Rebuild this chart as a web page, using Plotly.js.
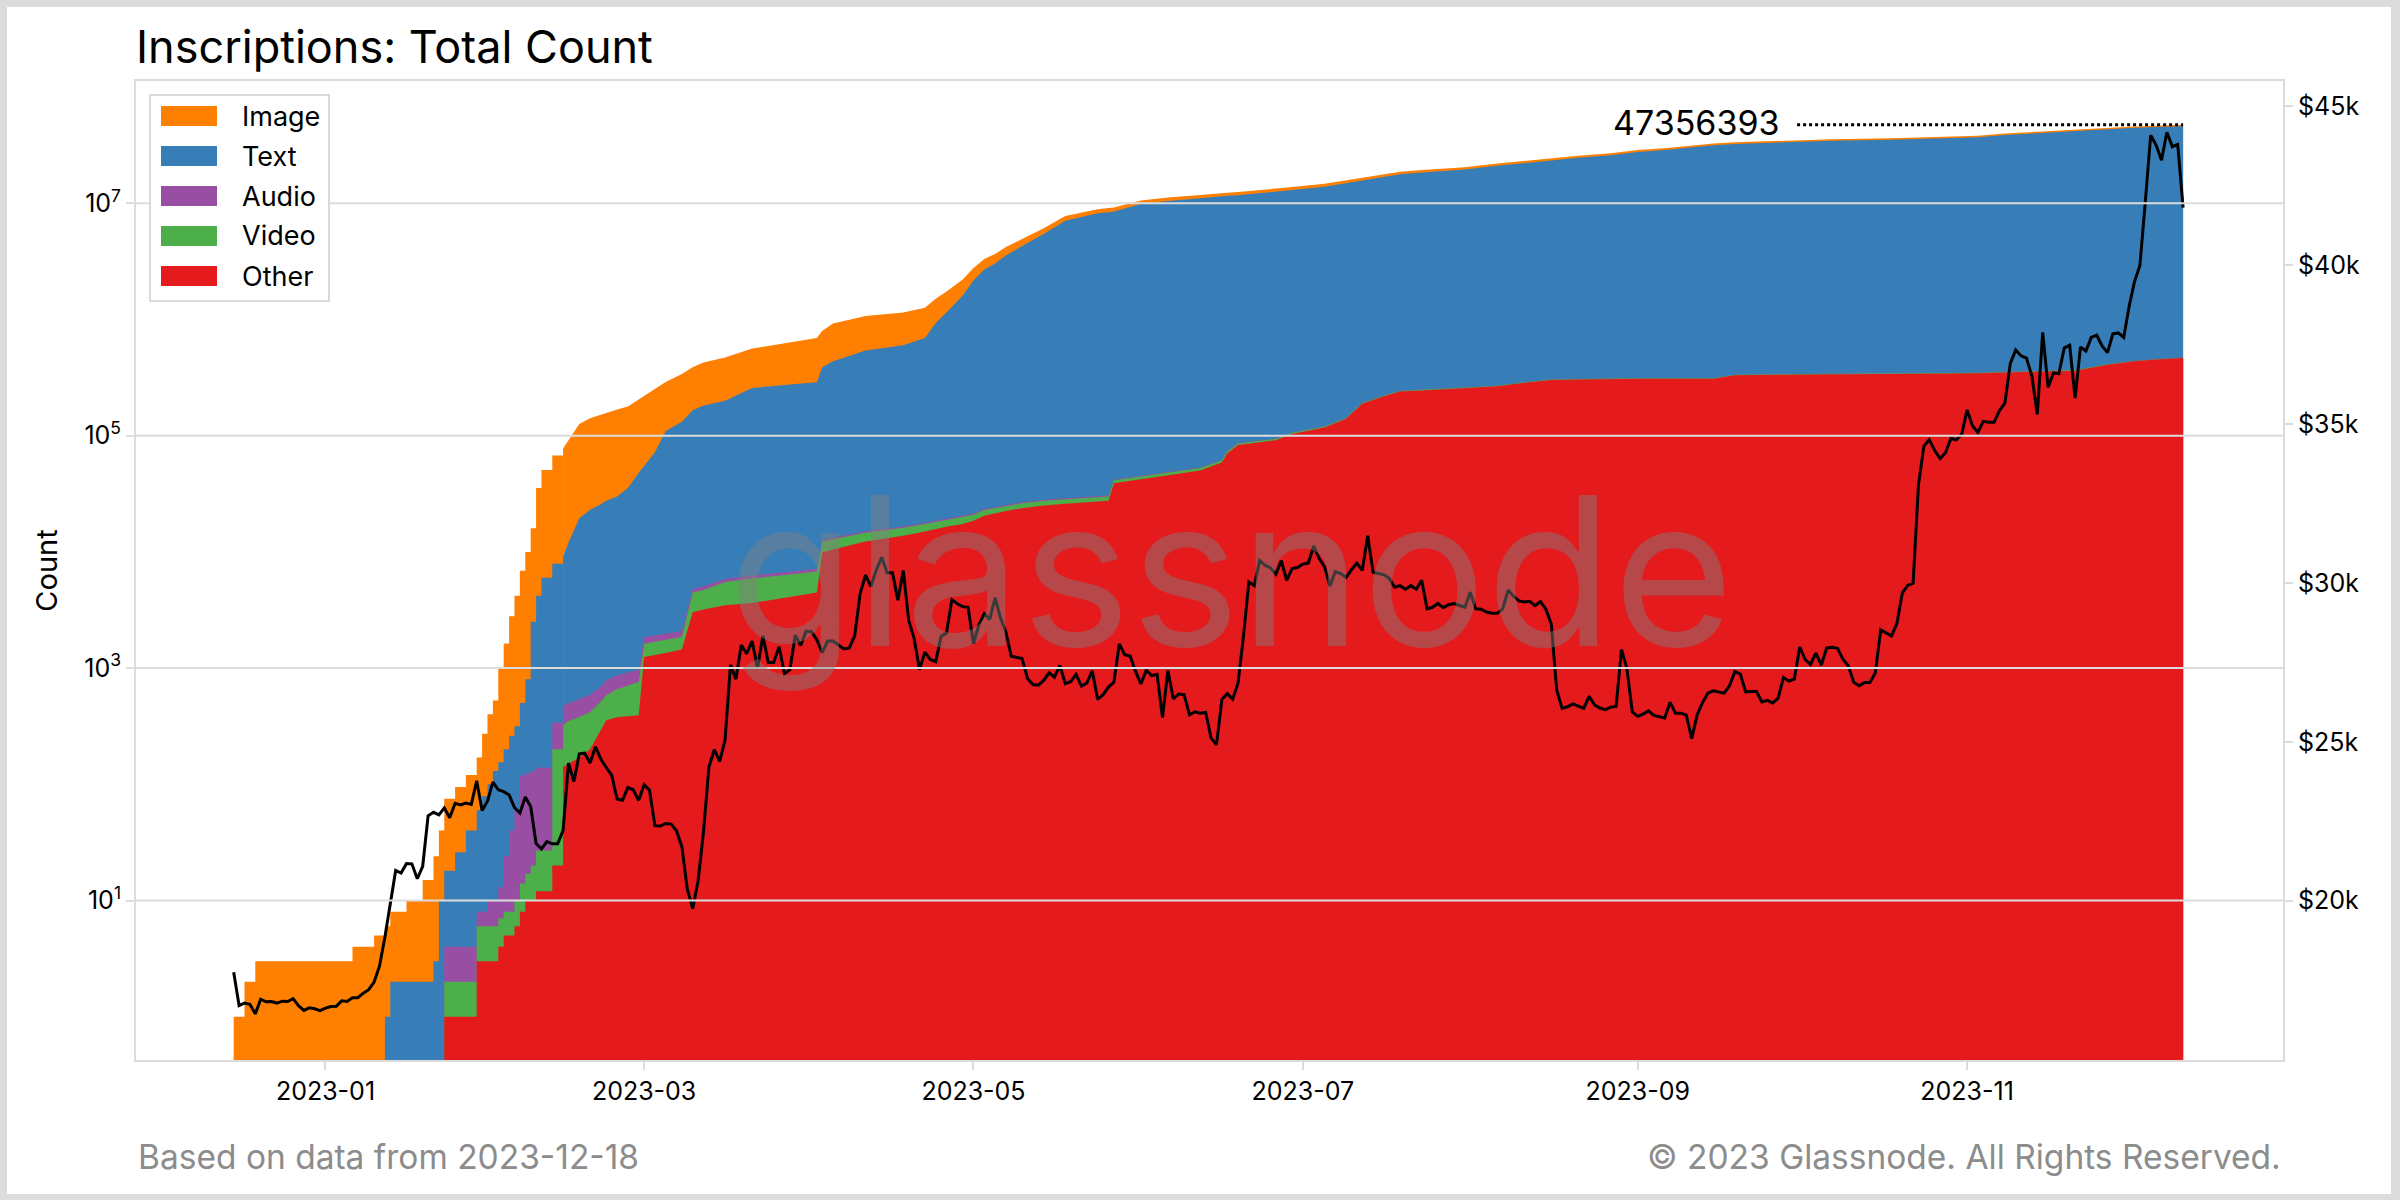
<!DOCTYPE html>
<html>
<head>
<meta charset="utf-8">
<script src="https://cdn.plot.ly/plotly-3.0.1.min.js"></script>
<style>
html,body{margin:0;padding:0;background:#dcdcdc;width:2400px;height:1200px;overflow:hidden}
#chart{position:absolute;left:7px;top:7px;width:2384px;height:1187px;background:#fff}
</style>
</head>
<body>
<div id="chart"></div>
<script>
// ---------------- data ----------------
const stackDates = [
'2022-12-15','2022-12-17','2022-12-19','2023-01-06','2023-01-10','2023-01-12','2023-01-13','2023-01-16','2023-01-19','2023-01-21',
'2023-01-22','2023-01-23','2023-01-25','2023-01-27','2023-01-29','2023-01-30','2023-01-31','2023-02-01','2023-02-02','2023-02-03',
'2023-02-04','2023-02-05','2023-02-06','2023-02-07','2023-02-08','2023-02-09','2023-02-10','2023-02-12','2023-02-14','2023-02-15',
'2023-02-17','2023-02-19','2023-02-21','2023-02-22','2023-02-24','2023-02-26','2023-02-28','2023-03-01','2023-03-03','2023-03-05',
'2023-03-08','2023-03-10','2023-03-12','2023-03-16','2023-03-21','2023-03-29','2023-04-02','2023-04-03','2023-04-05','2023-04-11',
'2023-04-18','2023-04-22','2023-04-24','2023-04-26','2023-04-29','2023-05-01','2023-05-03','2023-05-05','2023-05-07','2023-05-10',
'2023-05-14','2023-05-18','2023-05-24','2023-05-26','2023-05-27','2023-06-01','2023-06-06','2023-06-12','2023-06-16','2023-06-17',
'2023-06-19','2023-06-26','2023-06-29','2023-07-05','2023-07-09','2023-07-12','2023-07-16','2023-07-19','2023-07-23','2023-07-31',
'2023-08-06','2023-08-11','2023-08-16','2023-08-21','2023-08-27','2023-09-01','2023-09-06','2023-09-10','2023-09-15','2023-09-19',
'2023-09-28','2023-10-07','2023-10-18','2023-10-28','2023-11-03','2023-11-08','2023-11-18','2023-11-21','2023-11-27','2023-12-02',
'2023-12-06','2023-12-11'];

const otherCount = [
0,0,0,0,0,0,0,0,0,0,
0,1,1,1,3,3,3,3,4,5,
5,6,8,10,10,12,12,20,141,150,
170,200,291,355,378,385,392,1244,1288,1350,
1445,3020,3200,3470,3630,4170,4470,9890,10500,12300,
13800,15000,15700,16500,17400,18500,20500,21500,22500,23800,
25100,26000,27000,27500,38900,42000,46000,50100,58900,70800,
83200,91200,103500,117500,139600,188800,218800,239900,245500,255000,
266100,285000,302000,305000,309000,309000,309000,309000,309000,331000,
335700,338000,340000,342000,344400,350000,358000,363100,407400,436500,
452000,465600];

const videoCount = [
0,0,0,0,0,0,0,0,0,0,
0,1,1,1,3,3,3,3,3,3,
3,4,6,7,10,15,15,180,185,200,
210,220,225,230,280,320,366,380,390,400,
405,1450,1500,2030,2270,2300,2310,2320,2330,2350,
2370,2380,2390,2400,2410,2420,2430,2440,2450,2460,
2470,2480,2490,2495,2500,2510,2535,2560,2580,2590,
2600,2650,2670,2700,2730,2750,2780,2800,2830,2880,
2920,2960,3000,3040,3080,3110,3150,3180,3220,3250,
3320,3400,3480,3560,3610,3650,3740,3770,3830,3880,
3920,3960];

const audioCount = [
0,0,0,0,0,0,0,0,0,0,
0,2,2,2,2,2,4,4,6,16,
32,50,105,108,110,112,112,140,145,150,
160,170,175,200,210,210,210,215,220,230,
235,320,330,340,350,360,370,375,380,390,
400,410,420,430,440,450,460,470,480,490,
500,510,515,518,520,525,532,540,545,548,
550,560,565,575,580,585,590,595,600,610,
620,628,635,642,650,655,660,665,670,675,
690,700,715,730,740,750,770,775,790,800,
810,820];

const textCount = [
0,0,0,0,0,1,2,2,2,3,
10,14,22,36,52,71,90,120,142,176,
222,256,381,675,2370,4061,5861,7560,8629,11500,
18960,22410,25009,26715,29132,34585,47032,53161,70102,108020,
129915,161210,176970,194160,250750,272170,280850,376415,423790,524960,
583430,674210,914490,1130670,1589750,2148630,2666610,3015590,3534570,4263250,
5411930,7051010,8169995,8364487,8451080,9824965,10420933,11006800,11487975,11524062,
11653650,12425590,12903265,13759225,14797090,15647865,16847830,17556705,18141070,19231510,
20780360,21946412,23114365,24301318,25607270,27372235,28457190,29642155,31357110,32095075,
33070290,34197900,34825805,35653710,36691250,38275600,40807490,41437355,43177980,44238820,
44913270,45636013];

const imageCount = [
1,2,3,4,5,5,6,8,13,21,
30,57,69,80,110,193,300,395,865,1430,
2538,3884,6400,9200,13500,31300,44700,59700,68500,79000,
106500,118000,125300,130500,138000,142500,156000,164000,179000,180000,
207000,223000,245000,270000,305000,367000,404000,411000,485000,530000,
550000,568000,577000,590000,600000,610000,620000,630000,640000,650000,
660000,680000,700000,705000,707000,720000,730000,740000,750000,752000,
760000,780000,790000,820000,840000,860000,880000,900000,910000,930000,
950000,965000,980000,990000,1000000,1015000,1030000,1045000,1060000,1070000,
1090000,1110000,1130000,1150000,1160000,1170000,1190000,1195000,1210000,1220000,
1230000,1250000];

const categoryNames  = ['Image', 'Text', 'Audio', 'Video', 'Other'];
const categoryColors = ['#ff7f00', '#377eb8', '#984ea3', '#4daf4a', '#e41a1c'];

// BTC price, one value per day starting at priceStart
const priceStart = '2022-12-15';
const priceDec22 = [17750,16700,16780,16740,16440,16900,16820,16830,16780,16840,16830,16920,16700,16550,16630,16600,16540];
const priceJan = [16620,16670,16680,16850,16830,16950,16950,17090,17200,17440,17940,18850,19930,20950,20870,21170,21160,20690,21080,22670,22780,22700,22920,22610,23060,23010,23070,23030,23770,22840,23130];
const priceFeb = [23730,23490,23430,23330,22930,22760,23260,22960,21800,21630,21860,21790,21790,22210,24330,23750,24620,24640,24330,24840,24450,24190,23950,23200,23160,23560,23490,23150];
const priceMar = [23650,23480,22360,22350,22430,22410,22200,21700,20360,19750,20630,22160,24200,24750,24380,25060,27420,26970,28040,27770,28170,27310,28330,27490,27490,27990,27140,27270,28350,28030,28480];
const priceApr = [28460,28200,27800,28170,28170,28030,27920,27950,28330,29650,30240,29890,30400,30800,30320,30320,29450,30390,28820,28250,27270,27820,27590,27520,28310,28420,29470,29340,29250,29230];
const priceMay = [28090,28680,29030,28850,29530,28900,28450,27690,27650,27620,26990,26800,26780,26930,27170,27030,27400,26830,26890,27120,26750,26850,27230,26330,26480,26720,26870,28080,27740,27700,27220];
const priceJun = [26820,27250,27080,27120,25760,27240,26350,26500,26480,25850,25940,25900,25920,25120,24900,26330,26510,26340,26850,28330,30030,29910,30700,30550,30470,30270,30700,30080,30450,30480];
const priceJul = [30590,30620,31160,30770,30510,29900,30350,30290,30170,30410,30620,30390,31480,30330,30300,30250,30140,29860,29910,29800,29910,29800,30080,29180,29230,29350,29220,29310,29350,29280,29230];
const priceAug = [29700,29180,29170,29080,29040,29040,29180,29770,29580,29430,29400,29420,29280,29410,29170,28700,26630,26050,26100,26190,26120,26050,26430,26160,26060,26010,26090,26110,27900,27300,25940];
const priceSep = [25800,25870,25970,25830,25790,25750,26240,25900,25900,25840,25100,25840,26230,26530,26600,26570,26530,26760,27210,27130,26570,26580,26580,26250,26300,26220,26370,27020,26910,26970];
const priceOct = [27980,27590,27430,27790,27410,27950,27970,27940,27600,27390,26870,26760,26860,26860,27160,28520,28420,28330,28720,29680,29920,29990,33090,34300,34500,34160,33910,34090,34540,34500,34670];
const priceNov = [35440,34940,34730,35080,35050,35050,35420,35650,36900,37320,37140,37070,36500,35300,37880,36150,36600,36580,37390,37470,35810,37420,37290,37720,37790,37450,37240,37830,37860,37720];
const priceDec = [38690,39470,39980,41980,44080,43770,43290,44170,43720,43790,41800];

const countTickVals = [10, 1000, 100000, 10000000];
const countTickText = ['10<sup>1</sup>', '10<sup>3</sup>', '10<sup>5</sup>', '10<sup>7</sup>'];
const priceTickVals = [20000, 25000, 30000, 35000, 40000, 45000];
const priceTickText = ['$20k', '$25k', '$30k', '$35k', '$40k', '$45k'];

// daily steps are visible while counts are tiny; smooth edges afterwards
const stepUntilDate = '2023-02-14';

// ---------------- build ----------------
const btcPrice = [].concat(priceDec22, priceJan, priceFeb, priceMar, priceApr, priceMay,
                           priceJun, priceJul, priceAug, priceSep, priceOct, priceNov, priceDec);
const priceDates = btcPrice.map((_, i) => {
  const d = new Date(priceStart + 'T00:00:00Z');
  d.setUTCDate(d.getUTCDate() + i);
  return d.toISOString().slice(0, 10);
});

const layersBottomUp = [otherCount, videoCount, audioCount, textCount, imageCount];
const tops = [];
let running = stackDates.map(() => 0);
layersBottomUp.forEach(arr => {
  running = running.map((v, i) => v + arr[i]);
  tops.push(running.slice());
});
const lastIdx = stackDates.length - 1;
const lastTotal = tops[4][lastIdx];
const lastDate = stackDates[lastIdx];
const splitIdx = stackDates.indexOf(stepUntilDate);

const traces = [];
for (let k = 4; k >= 0; k--) {
  const idx = 4 - k;
  const yTop = tops[k].map(v => v > 0 ? v : null);
  [[0, splitIdx + 1, 'hv'], [splitIdx, stackDates.length, 'linear']].forEach(([a, b, shape]) => {
    traces.push({
      type: 'scatter', mode: 'lines', name: categoryNames[idx],
      x: stackDates.slice(a, b), y: yTop.slice(a, b),
      fill: 'tozeroy', fillcolor: categoryColors[idx],
      line: {width: 0, shape: shape, color: categoryColors[idx]},
      hoverinfo: 'skip', showlegend: false, xaxis: 'x', yaxis: 'y'
    });
  });
}
traces.push({
  type: 'scatter', mode: 'lines', name: 'BTC Price',
  x: priceDates, y: btcPrice,
  line: {color: '#000000', width: 3},
  hoverinfo: 'skip', showlegend: false, xaxis: 'x', yaxis: 'y2'
});

// plot-area geometry in page pixels, used to place the hand-drawn legend
const PL = 136, PT = 81, PW = 2147, PH = 979;
const px2x = px => (px - PL) / PW;
const py2y = py => 1 - (py - PT) / PH;

const shapes = [];
countTickVals.forEach(v => shapes.push({
  type: 'line', xref: 'paper', x0: 0, x1: 1, yref: 'y', y0: v, y1: v,
  line: {color: '#dcdcdc', width: 2}, layer: 'above'
}));
// dotted guide to last total
shapes.push({
  type: 'line', xref: 'x', xsizemode: 'pixel', xanchor: lastDate, x0: -386, x1: 0,
  yref: 'y', y0: lastTotal, y1: lastTotal,
  line: {color: '#000', width: 3, dash: '3px,3px'}, layer: 'above'
});
// legend box
shapes.push({
  type: 'rect', xref: 'paper', yref: 'paper',
  x0: px2x(150), x1: px2x(329), y0: py2y(301), y1: py2y(95),
  fillcolor: '#ffffff', line: {color: '#d9d9d9', width: 2}, layer: 'above'
});
const annotations = [];
categoryNames.forEach((name, i) => {
  const cy = 116 + 40 * i;
  shapes.push({
    type: 'rect', xref: 'paper', yref: 'paper',
    x0: px2x(161), x1: px2x(217), y0: py2y(cy + 10), y1: py2y(cy - 10),
    fillcolor: categoryColors[i], line: {width: 0}, layer: 'above'
  });
  annotations.push({
    xref: 'paper', yref: 'paper', x: px2x(240), y: py2y(cy),
    xanchor: 'left', yanchor: 'middle', text: name, showarrow: false,
    font: {size: 27, color: '#000'}
  });
});
// watermark
annotations.push({
  xref: 'paper', yref: 'paper', x: 0.51, y: 0.5, xanchor: 'center', yanchor: 'middle',
  text: 'glassnode', showarrow: false,
  font: {size: 207, color: 'rgba(128,128,128,0.45)'}
});
// last total label
annotations.push({
  xref: 'x', yref: 'y', x: lastDate, y: Math.log10(lastTotal),
  xanchor: 'right', yanchor: 'middle', xshift: -402, yshift: 2,
  text: String(lastTotal), showarrow: false, font: {size: 34, color: '#000'}
});
// footers
annotations.push({
  xref: 'paper', yref: 'paper', x: 0, y: py2y(1157), xanchor: 'left', yanchor: 'middle',
  text: 'Based on data from 2023-12-18', showarrow: false, font: {size: 33.5, color: '#8c8c8c'}
});
annotations.push({
  xref: 'paper', yref: 'paper', x: 1, y: py2y(1157), xanchor: 'right', yanchor: 'middle',
  text: '© 2023 Glassnode. All Rights Reserved.', showarrow: false, font: {size: 33.5, color: '#8c8c8c'}
});

const layout = {
  width: 2384, height: 1187,
  margin: {l: 129, r: 108, t: 74, b: 134},
  paper_bgcolor: '#ffffff', plot_bgcolor: '#ffffff',
  font: {family: 'Inter, "Noto Sans", sans-serif', size: 25, color: '#000'},
  title: {
    text: 'Inscriptions: Total Count', font: {size: 45, color: '#000'},
    x: 0, xref: 'paper', xanchor: 'left', y: 1 - 40.5 / 1187, yref: 'container', yanchor: 'middle'
  },
  showlegend: false, hovermode: false,
  xaxis: {
    type: 'date', range: ['2022-11-26 21:50', '2023-12-29 12:00'],
    tick0: '2023-01-01', dtick: 'M2', tickformat: '%Y-%m',
    ticks: 'outside', ticklen: 8, tickwidth: 2, tickcolor: '#dcdcdc',
    showline: true, linecolor: '#dcdcdc', linewidth: 2, mirror: true,
    showgrid: false, zeroline: false, tickfont: {size: 25, color: '#000'}
  },
  yaxis: {
    type: 'log', range: [-0.3726, 8.0525],
    tickmode: 'array', tickvals: countTickVals, ticktext: countTickText,
    ticks: 'outside', ticklen: 8, tickwidth: 2, tickcolor: '#dcdcdc',
    showline: true, linecolor: '#dcdcdc', linewidth: 2, mirror: true,
    showgrid: false, zeroline: false, tickfont: {size: 25, color: '#000'},
    title: {text: 'Count', font: {size: 29, color: '#000'}, standoff: 18}
  },
  yaxis2: {
    overlaying: 'y', side: 'right', range: [14989, 45785],
    tickmode: 'array', tickvals: priceTickVals, ticktext: priceTickText,
    ticks: 'outside', ticklen: 9, tickwidth: 2, tickcolor: '#dcdcdc',
    showline: false, showgrid: false, zeroline: false,
    tickfont: {size: 25, color: '#000'}
  },
  shapes: shapes,
  annotations: annotations
};

Plotly.newPlot('chart', traces, layout, {staticPlot: true, displayModeBar: false});
</script>
</body>
</html>
